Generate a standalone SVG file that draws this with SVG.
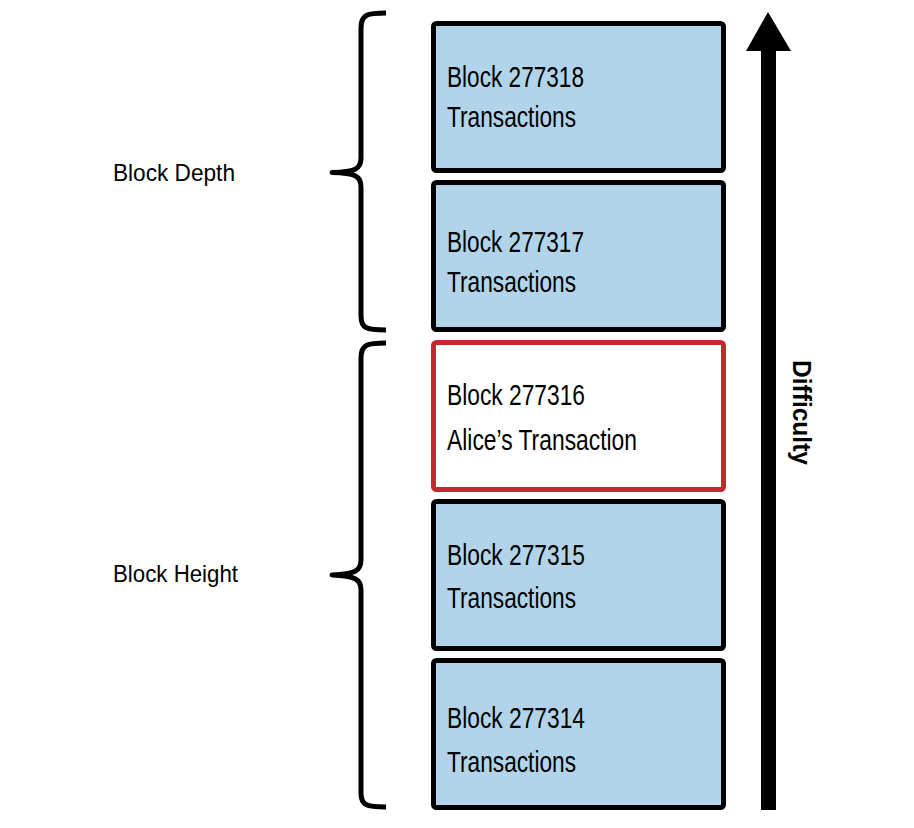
<svg xmlns="http://www.w3.org/2000/svg" width="914" height="828" viewBox="0 0 914 828">
<style>
.blk{fill:#b1d4ea;stroke:#000;stroke-width:5}
.alice{fill:#fff;stroke:#c8262f;stroke-width:5}
.t{font-family:"Liberation Sans",Arial,sans-serif;font-size:29px;fill:#000}
.lbl{font-family:"Liberation Sans",Arial,sans-serif;font-size:24.5px;fill:#000}
.brace{fill:none;stroke:#000;stroke-width:5;stroke-linejoin:round}
</style>
<rect width="914" height="828" fill="#fff"/>
<g id="braces">
<path class="brace" d="M386,13 C368,13 361,14 361,28 L361,158 C361,169 355,172 332,172.5 C355,173 361,176 361,187 L361,316 C361,328 366,330 386,330"/>
<path class="brace" d="M386,343 C368,343 361,344 361,358 L361,560 C361,571 355,574 332,575 C355,576 361,579 361,590 L361,793 C361,805 366,807 386,807"/>
</g>
<g id="label-depth"><text class="lbl" x="113" y="181" textLength="122" lengthAdjust="spacingAndGlyphs">Block Depth</text></g>
<g id="label-height"><text class="lbl" x="113" y="582" textLength="125" lengthAdjust="spacingAndGlyphs">Block Height</text></g>
<g id="block-277318">
<rect class="blk" x="433.5" y="23.5" width="290" height="147" rx="3"/>
<text class="t" x="447" y="87" textLength="137" lengthAdjust="spacingAndGlyphs">Block 277318</text>
<text class="t" x="447" y="127" textLength="129" lengthAdjust="spacingAndGlyphs">Transactions</text>
</g>
<g id="block-277317">
<rect class="blk" x="433.5" y="182.5" width="290" height="147" rx="3"/>
<text class="t" x="447" y="252" textLength="137" lengthAdjust="spacingAndGlyphs">Block 277317</text>
<text class="t" x="447" y="292" textLength="129" lengthAdjust="spacingAndGlyphs">Transactions</text>
</g>
<g id="block-277316">
<rect class="alice" x="433.5" y="342.5" width="290" height="147" rx="3"/>
<text class="t" x="447" y="405" textLength="138" lengthAdjust="spacingAndGlyphs">Block 277316</text>
<text class="t" x="447" y="450" textLength="190" lengthAdjust="spacingAndGlyphs">Alice’s Transaction</text>
</g>
<g id="block-277315">
<rect class="blk" x="433.5" y="501.5" width="290" height="147" rx="3"/>
<text class="t" x="447" y="565" textLength="138" lengthAdjust="spacingAndGlyphs">Block 277315</text>
<text class="t" x="447" y="608" textLength="129" lengthAdjust="spacingAndGlyphs">Transactions</text>
</g>
<g id="block-277314">
<rect class="blk" x="433.5" y="660.5" width="290" height="147" rx="3"/>
<text class="t" x="447" y="728" textLength="138" lengthAdjust="spacingAndGlyphs">Block 277314</text>
<text class="t" x="447" y="772" textLength="129" lengthAdjust="spacingAndGlyphs">Transactions</text>
</g>
<g id="connectors">
<g id="difficulty-arrow">
<rect x="761" y="48" width="15" height="762" fill="#000"/>
<polygon points="768,12 746,51 791,51" fill="#000"/>
</g>
</g>
<g id="label-difficulty">
<text font-family="Liberation Sans, Arial, sans-serif" font-weight="bold" font-size="26" transform="translate(793,360) rotate(90)" textLength="105" lengthAdjust="spacingAndGlyphs">Difficulty</text>
</g>
</svg>
